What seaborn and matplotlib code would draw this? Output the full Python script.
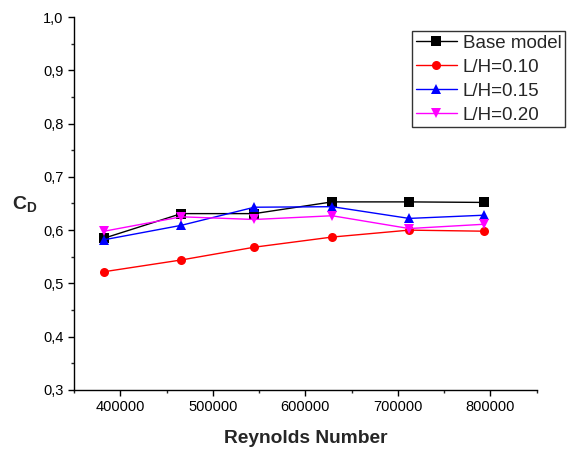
import matplotlib
matplotlib.use("Agg")
import matplotlib.pyplot as plt
from matplotlib.ticker import FuncFormatter, MultipleLocator
import pandas as pd
import seaborn as sns

# Reynolds numbers and drag coefficients
reynolds = [382700, 465900, 544900, 628900, 712100, 792800]
cd_base = [0.585, 0.631, 0.631, 0.653, 0.653, 0.652]
cd_010 = [0.522, 0.544, 0.568, 0.587, 0.600, 0.598]
cd_015 = [0.582, 0.609, 0.643, 0.644, 0.622, 0.628]
cd_020 = [0.598, 0.625, 0.620, 0.627, 0.603, 0.611]
series_names = ["Base model", "L/H=0.10", "L/H=0.15", "L/H=0.20"]

frames = []
for name, vals in zip(series_names, [cd_base, cd_010, cd_015, cd_020]):
    frames.append(pd.DataFrame({"Re": reynolds, "CD": vals, "case": name}))
df = pd.concat(frames, ignore_index=True)

colors = {"Base model": "#000000", "L/H=0.10": "#ff0000",
          "L/H=0.15": "#0000ff", "L/H=0.20": "#ff00ff"}
markers = {"Base model": "s", "L/H=0.10": "o", "L/H=0.15": "^", "L/H=0.20": "v"}

sns.set_style("ticks")
plt.rcParams["font.family"] = ["Liberation Sans", "DejaVu Sans"]
plt.rcParams["mathtext.fontset"] = "custom"
plt.rcParams["mathtext.rm"] = "Liberation Sans"
plt.rcParams["mathtext.bf"] = "Liberation Sans:bold"

fig = plt.figure(figsize=(5.71, 4.51), dpi=100)
ax = fig.add_axes([0.1296, 0.1353, 0.8104, 0.827])

sns.lineplot(data=df, x="Re", y="CD", hue="case", style="case",
             palette=colors, markers=markers, dashes=False,
             markersize=6.5, markeredgewidth=0, linewidth=1.0,
             sort=False, ax=ax, legend=False)

ax.set_xlim(350000, 850000)
ax.set_ylim(0.3, 1.0)
ax.xaxis.set_major_locator(MultipleLocator(100000))
ax.xaxis.set_minor_locator(MultipleLocator(50000))
ax.yaxis.set_major_locator(MultipleLocator(0.1))
ax.yaxis.set_minor_locator(MultipleLocator(0.05))
ax.yaxis.set_major_formatter(FuncFormatter(lambda v, p: f"{v:.1f}".replace(".", ",")))
ax.xaxis.set_major_formatter(FuncFormatter(lambda v, p: f"{int(v)}"))
ax.tick_params(which="major", direction="out", length=4, width=1, labelsize=10.5, colors="#000000")
ax.tick_params(which="minor", direction="out", length=2.5, width=1)
for s in ["left", "bottom"]:
    ax.spines[s].set_linewidth(1)
    ax.spines[s].set_color("#000000")
sns.despine(ax=ax)

ax.set_xlabel("Reynolds Number", fontsize=13.8, fontweight="bold", labelpad=11)
ax.set_ylabel(r"$\mathbf{C}_{\mathbf{D}}$", fontsize=14, rotation=0)
ax.yaxis.set_label_coords(-0.106, 0.47)

handles = [plt.Line2D([], [], color=colors[n], marker=markers[n], markersize=6.5,
                      markeredgewidth=0, linewidth=1.0) for n in series_names]
leg = fig.legend(handles, series_names, loc="upper left",
                 bbox_to_anchor=(412 / 571, 1 - 31 / 451), bbox_transform=fig.transFigure,
                 fontsize=13.5, frameon=True, fancybox=False, borderpad=0.2,
                 labelspacing=0.36, handlelength=2.2, handletextpad=0.3,
                 borderaxespad=0)
leg.get_frame().set_edgecolor("#000000")
leg.get_frame().set_linewidth(1)

fig.savefig("out.png", dpi=100)
